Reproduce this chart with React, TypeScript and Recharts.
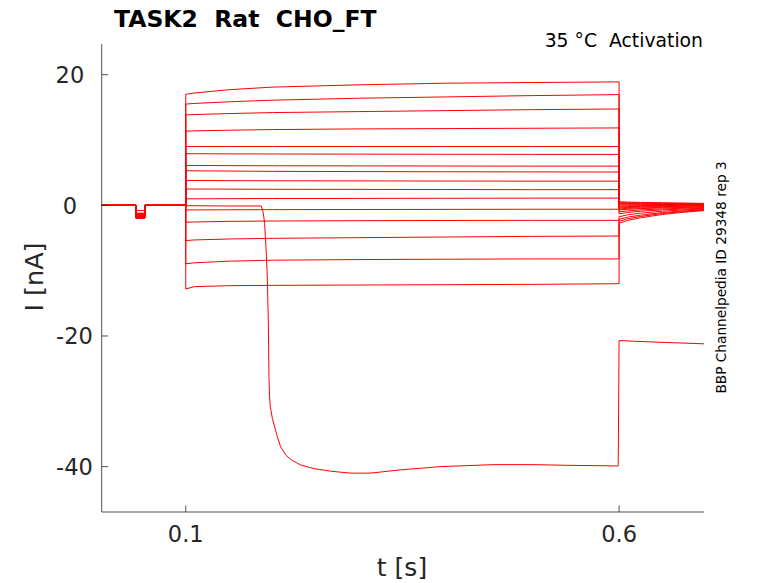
import React from 'react';
import { Line, LineChart, XAxis, YAxis } from 'recharts';

// pre-pulse window (s) and dip levels (nA), one per trace
const preT = [0.003, 0.0424, 0.0424, 0.0528, 0.0528, 0.1];
const dipLevels = [
  -0.8, -1.2, -1.3, -1.35, -1.4, -1.45, -1.5, -1.55, -1.6, -1.65, -1.7, -1.75, -1.8, -1.85,
  -1.9, -1.95, -2.0,
];

// activation step
const stepT = [0.1, 0.11, 0.15, 0.2, 0.3, 0.4, 0.5, 0.6];
const stepLevels = [
  [17.0, 17.2, 17.7, 18.1, 18.45, 18.7, 18.8, 18.9],
  [15.5, 15.6, 15.85, 16.1, 16.4, 16.6, 16.8, 16.95],
  [13.85, 13.9, 14.05, 14.2, 14.35, 14.5, 14.65, 14.75],
  [11.35, 11.4, 11.5, 11.6, 11.7, 11.75, 11.8, 11.85],
  [9.0, 9.0, 9.0, 9.0, 9.0, 9.0, 9.0, 9.0],
  [7.9, 7.9, 7.88, 7.86, 7.84, 7.82, 7.8, 7.8],
  [6.1, 6.1, 6.08, 6.06, 6.04, 6.02, 6.0, 6.0],
  [5.3, 5.28, 5.25, 5.2, 5.17, 5.14, 5.12, 5.1],
  [3.8, 3.8, 3.78, 3.76, 3.74, 3.72, 3.7, 3.7],
  [2.5, 2.5, 2.48, 2.46, 2.44, 2.42, 2.4, 2.4],
  [1.0, 1.0, 1.02, 1.04, 1.06, 1.08, 1.1, 1.1],
  [-0.7, -0.7, -0.68, -0.66, -0.64, -0.62, -0.6, -0.6],
  [-2.6, -2.55, -2.45, -2.4, -2.35, -2.32, -2.3, -2.3],
  [-5.4, -5.3, -5.15, -5.05, -4.95, -4.85, -4.75, -4.7],
  [-8.95, -8.8, -8.55, -8.4, -8.3, -8.25, -8.2, -8.2],
  [-12.8, -12.45, -12.3, -12.25, -12.2, -12.15, -12.1, -12.0],
];

// tail after the step
const tailT = [0.6, 0.61, 0.625, 0.65, 0.675, 0.698];
const tailLevels = [
  [0.55, 0.5, 0.45, 0.4, 0.35, 0.3],
  [0.4, 0.38, 0.35, 0.3, 0.27, 0.25],
  [0.3, 0.28, 0.25, 0.22, 0.2, 0.2],
  [0.2, 0.18, 0.16, 0.13, 0.11, 0.1],
  [0.05, 0.05, 0.05, 0.05, 0.05, 0.05],
  [-0.1, -0.08, -0.05, -0.02, 0, 0],
  [-0.25, -0.2, -0.16, -0.1, -0.07, -0.05],
  [-0.4, -0.33, -0.27, -0.2, -0.14, -0.1],
  [-0.55, -0.47, -0.4, -0.3, -0.25, -0.2],
  [-0.7, -0.6, -0.5, -0.4, -0.32, -0.25],
  [-1.0, -0.85, -0.7, -0.55, -0.44, -0.35],
  [-1.3, -1.1, -0.9, -0.7, -0.56, -0.45],
  [-1.75, -1.45, -1.2, -0.9, -0.7, -0.55],
  [-2.15, -1.8, -1.5, -1.1, -0.85, -0.65],
  [-2.45, -2.05, -1.7, -1.25, -0.95, -0.72],
  [-2.75, -2.3, -1.9, -1.4, -1.05, -0.8],
];

// the one sweep that collapses inward
const bigT = [
  0.1, 0.15, 0.1872, 0.1895, 0.191, 0.1925, 0.1941, 0.1953, 0.196, 0.1966, 0.1975, 0.1999,
  0.2056, 0.2094, 0.2152, 0.222, 0.2325, 0.2478, 0.267, 0.29, 0.313, 0.348, 0.394, 0.455, 0.501,
  0.54, 0.599, 0.6, 0.616, 0.655, 0.698,
];
const bigI = [
  -0.05, -0.1, -0.1, -1.2, -2.75, -6.3, -10.9, -18.1, -26.2, -29.0, -30.8, -32.6, -35.4, -36.95,
  -38.2, -39.0, -39.75, -40.3, -40.7, -41.0, -41.0, -40.5, -40.0, -39.7, -39.7, -39.8, -39.9,
  -20.7, -20.8, -21.0, -21.2,
];

const yTicks = [-40, -20, 0, 20];
const xTicks = [0.1, 0.6];

const FONT = 'DejaVu Sans';
const AXIS = '#262626';
const RED = '#ff0000';

const pre = (dip: number) =>
  preT.map((t, k) => ({ t, i: k === 2 || k === 3 ? dip : 0 }));

const traces = stepLevels.map((lv, n) => [
  ...pre(dipLevels[n]),
  ...stepT.map((t, k) => ({ t, i: lv[k] })),
  ...tailT.map((t, k) => ({ t, i: tailLevels[n][k] })),
]);
traces.push([...pre(dipLevels[16]), ...bigT.map((t, k) => ({ t, i: bigI[k] }))]);

const YTick = ({ x, y, payload }: any) => (
  <g>
    <line x1={x} x2={x + 6.5} y1={y} y2={y} stroke={AXIS} strokeWidth={0.8} />
    <text
      x={payload.value < 0 ? x - 27.3 : x - 31.8}
      y={y + 8.2}
      textAnchor="middle"
      fontFamily={FONT}
      fontSize={22.5}
      fill={AXIS}
    >
      {payload.value}
    </text>
  </g>
);

const XTick = ({ x, y, payload }: any) => (
  <g>
    <line x1={x} x2={x} y1={y} y2={y - 6.5} stroke={AXIS} strokeWidth={0.8} />
    <text x={x} y={y + 29.7} textAnchor="middle" fontFamily={FONT} fontSize={22.5} fill={AXIS}>
      {payload.value}
    </text>
  </g>
);

export default function App() {
  return (
    <div style={{ position: 'absolute', left: 0, top: 0, width: 778, height: 583, background: '#fff' }}>
      <LineChart width={778} height={583} margin={{ top: 44, right: 74, bottom: 41, left: 41.7 }}>
        <XAxis
          type="number"
          dataKey="t"
          domain={[0.003, 0.698]}
          allowDataOverflow
          ticks={xTicks}
          tick={XTick}
          tickSize={0}
          tickMargin={0}
          tickLine={false}
          height={30}
          axisLine={{ stroke: AXIS, strokeWidth: 0.8 }}
        />
        <YAxis
          type="number"
          dataKey="i"
          domain={[-46.95, 24.7]}
          allowDataOverflow
          ticks={yTicks}
          tick={YTick}
          tickSize={0}
          tickMargin={0}
          tickLine={false}
          width={60}
          axisLine={{ stroke: AXIS, strokeWidth: 0.8 }}
        />
        {traces.map((d, n) => (
          <Line
            key={n}
            data={d}
            dataKey="i"
            type="linear"
            stroke={RED}
            strokeWidth={1}
            dot={false}
            activeDot={false}
            isAnimationActive={false}
          />
        ))}
      </LineChart>
      <svg
        width={778}
        height={583}
        style={{ position: 'absolute', left: 0, top: 0, pointerEvents: 'none' }}
      >
        <text x={114} y={26.7} fontFamily={FONT} fontWeight="bold" fontSize={23.5} fill="#000" style={{ whiteSpace: 'pre' }}>
          TASK2  Rat  CHO_FT
        </text>
        <text x={703} y={47} textAnchor="end" fontFamily={FONT} fontSize={18.8} fill="#000" style={{ whiteSpace: 'pre' }}>
          35 °C  Activation
        </text>
        <text
          transform="translate(43,277) rotate(-90)"
          textAnchor="middle"
          fontFamily={FONT}
          fontSize={25.5}
          fill={AXIS}
        >
          I [nA]
        </text>
        <text x={402} y={575.5} textAnchor="middle" fontFamily={FONT} fontSize={25} fill={AXIS}>
          t [s]
        </text>
        <text
          transform="translate(725.5,277.5) rotate(-90)"
          textAnchor="middle"
          fontFamily={FONT}
          fontSize={13.7}
          fill="#000"
        >
          BBP Channelpedia ID 29348 rep 3
        </text>
      </svg>
    </div>
  );
}
